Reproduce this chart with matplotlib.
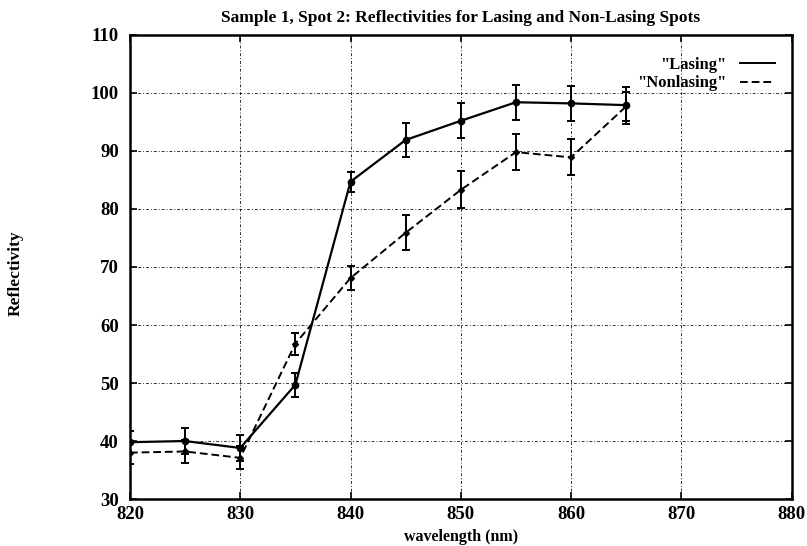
import matplotlib.pyplot as plt
from matplotlib.lines import Line2D

wavelength = [820, 825, 830, 835, 840, 845, 850, 855, 860, 865]

lasing = [39.8, 40.0, 38.8, 49.7, 84.7, 91.9, 95.2, 98.4, 98.2, 97.9]
lasing_err = [1.9, 2.2, 2.2, 2.1, 1.7, 3.0, 3.0, 3.0, 3.0, 3.2]

nonlasing = [38.0, 38.2, 37.1, 56.8, 68.1, 75.9, 83.3, 89.8, 88.9, 97.7]
nonlasing_err = [1.9, 2.0, 2.0, 1.9, 2.0, 3.0, 3.2, 3.1, 3.1, 2.5]

x_ticks = [820, 830, 840, 850, 860, 870, 880]
y_ticks = [30, 40, 50, 60, 70, 80, 90, 100, 110]

plt.rcParams["font.family"] = ["Liberation Serif", "DejaVu Serif"]
plt.rcParams["font.weight"] = "bold"

fig = plt.figure(figsize=(8.07, 5.46), dpi=100)
ax = fig.add_axes([0.161, 0.086, 0.82, 0.85])

ax.errorbar(wavelength, lasing, yerr=lasing_err, color="black", lw=1.6,
            ls="-", marker="o", ms=4.5, capsize=3, elinewidth=1.4,
            capthick=1.4)
ax.errorbar(wavelength, nonlasing, yerr=nonlasing_err, color="black", lw=1.4,
            ls=(0, (4, 2)), marker="D", ms=3, capsize=3, elinewidth=1.4,
            capthick=1.4)

ax.set_xlim(820, 880)
ax.set_ylim(30, 110)
ax.set_xticks(x_ticks)
ax.set_yticks(y_ticks)
ax.tick_params(direction="in", length=5, width=1.2, labelsize=13.5,
               top=True, right=True, pad=5)
ax.tick_params(axis="y", pad=8)
for lbl in ax.get_xticklabels() + ax.get_yticklabels():
    lbl.set_fontweight("bold")

ax.grid(True, color="black", ls=(0, (3, 2, 1, 2)), lw=0.7, alpha=0.8)
for s in ax.spines.values():
    s.set_linewidth(1.8)

ax.set_title("Sample 1, Spot 2: Reflectivities for Lasing and Non-Lasing Spots",
             fontsize=12.5, fontweight="bold", pad=9)
ax.set_xlabel("wavelength (nm)", fontsize=11.5, fontweight="bold", labelpad=4)
fig.text(0.019, 0.5, "Reflectivity", rotation=90, ha="center", va="center",
         fontsize=12.5, fontweight="bold")

handles = [Line2D([], [], color="black", lw=1.4),
           Line2D([], [], color="black", lw=1.4, ls=(0, (4, 2)))]
ax.legend(handles, ['"Lasing"', '"Nonlasing"'], loc="upper right",
          frameon=False, markerfirst=False, fontsize=12,
          handlelength=2.1, handletextpad=0.8, labelspacing=0.15,
          bbox_to_anchor=(0.997, 0.985))

fig.savefig("out.png", dpi=100)
